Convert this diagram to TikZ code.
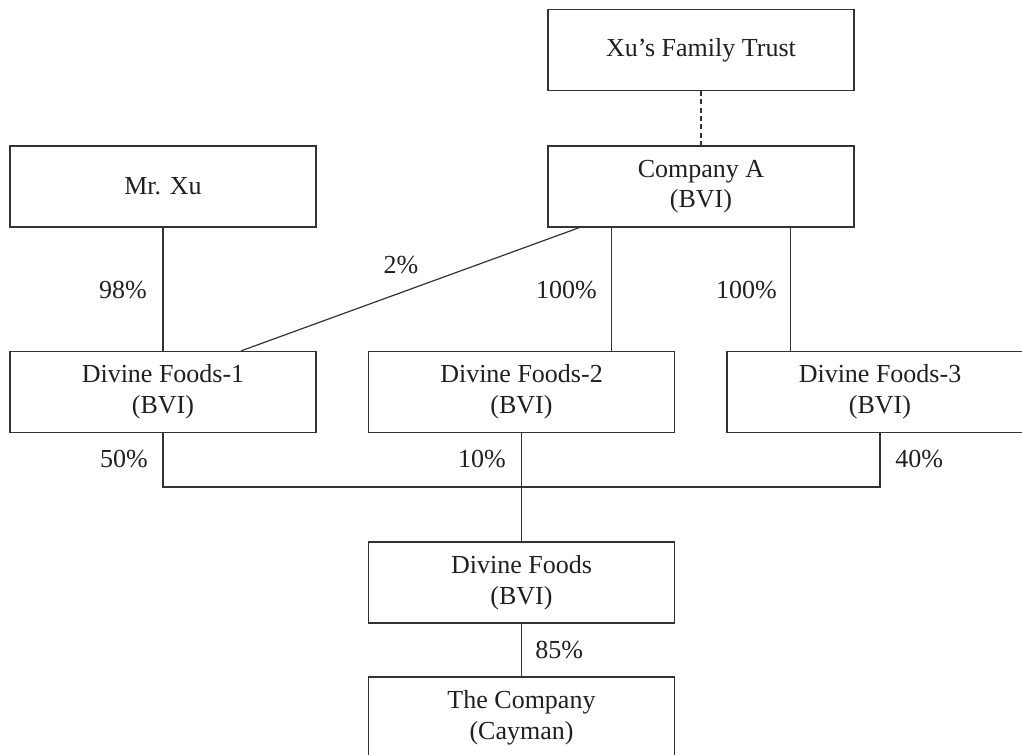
\documentclass[tikz,border=0pt]{standalone}
\usepackage{fontspec}
\setmainfont{Liberation Serif}
\usetikzlibrary{calc}
\begin{document}
\begin{tikzpicture}[x=0.75pt,y=-0.75pt,
  lbl/.style={font=\fontsize{19.5}{23}\selectfont, text=black!88},
  box/.style={lbl, draw=black!80, line width=0.9pt, minimum width=229.5pt, minimum height=60.75pt, inner sep=0pt, align=center},
  conn/.style={draw=black!80, line width=0.9pt},
  pct/.style={lbl, inner sep=0pt}]
\clip (0,0) rectangle (1022,755);
\node[box] (trust) at (701,50) {Xu’s Family Trust};
\node[box] (xu) at (163,186.5) {Mr. Xu};
\node[box] (coA) at (701,186.5) {Company A\\(BVI)};
\node[box] (df1) at (163,392) {Divine Foods-1\\(BVI)};
\node[box] (df2) at (521.5,392) {Divine Foods-2\\(BVI)};
\node[box] (df3) at (880,392) {Divine Foods-3\\(BVI)};
\node[box] (df) at (521.5,582.5) {Divine Foods\\(BVI)};
\node[box] (co) at (521.5,717.5) {The Company\\(Cayman)};
\coordinate (j) at (521.5,487);
\draw[conn, dash pattern=on 3.75pt off 2.5pt] (trust.south) -- (coA.north);
\draw[conn] (xu.south) -- (df1.north);
\draw[conn] ($(coA.south west)+(32,0)$) -- ($(df1.north)+(78,0)$);
\draw[conn] ($(coA.south west)+(64,0)$) coordinate (a2) -- (a2 |- df2.north);
\draw[conn] ($(coA.south west)+(243,0)$) coordinate (a3) -- (a3 |- df3.north);
\draw[conn] (df1.south) |- (j) -| (df3.south);
\draw[conn] (df2.south) -- (df.north);
\draw[conn] (df.south) -- (co.north);
\node[pct, anchor=east] (p98) at (147,290) {98\%};
\node[pct] (p2) at (401,265) {2\%};
\node[pct, anchor=east] (p100a) at (597,290) {100\%};
\node[pct, anchor=east] (p100b) at (777,290) {100\%};
\node[pct, anchor=east] (p50) at (148,459) {50\%};
\node[pct, anchor=east] (p10) at (506,459) {10\%};
\node[pct, anchor=west] (p40) at (895,459) {40\%};
\node[pct, anchor=west] (p85) at (535,650) {85\%};
\end{tikzpicture}
\end{document}
